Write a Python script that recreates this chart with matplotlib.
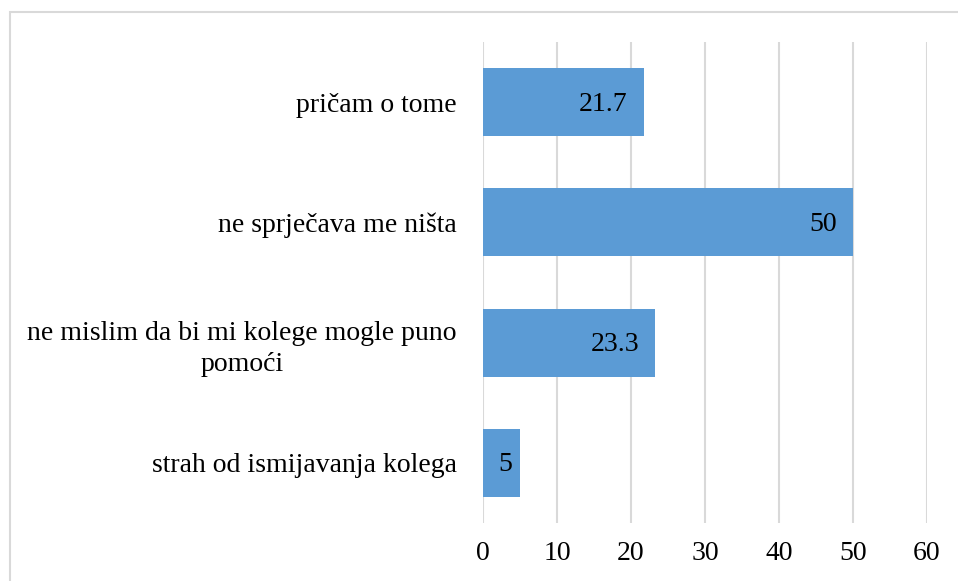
import matplotlib
matplotlib.use("Agg")
import matplotlib.pyplot as plt
from matplotlib.patches import Rectangle

categories = ["pričam o tome", "ne sprječava me ništa",
              "ne mislim da bi mi kolege mogle puno\npomoći",
              "strah od ismijavanja kolega"]
values = [21.7, 50, 23.3, 5]
xticks = [0, 10, 20, 30, 40, 50, 60]

plt.rcParams['font.family'] = ['Liberation Serif', 'DejaVu Serif']

W, H = 958, 581
fig = plt.figure(figsize=(W/100, H/100), dpi=100)
ax = fig.add_axes([483/W, 1-523/H, (927-483)/W, (523-42)/H])

grid_c = '#d9d9d9'
fig.patches.append(Rectangle((10/W, -0.1), 1.2, 1 - 12/H + 0.1, transform=fig.transFigure,
                             fill=False, edgecolor=grid_c, linewidth=1.5))

y = list(range(len(categories)))
ax.barh(y, values, height=0.566, color='#5b9bd5', zorder=2)
ax.set_ylim(len(categories)-0.5, -0.5)
ax.set_xlim(0, 60)
ax.set_xticks(xticks)
ax.set_xticklabels([str(t) for t in xticks])
ax.set_yticks(y)
ax.set_yticklabels(categories)
for lbl in ax.get_yticklabels():
    lbl.set_multialignment('center')
    lbl.set_linespacing(1.35)
ax.tick_params(axis='both', length=0, labelsize=20, colors='black')
ax.tick_params(axis='y', pad=19)
ax.tick_params(axis='x', pad=13)
for s in ax.spines.values():
    s.set_visible(False)
ax.xaxis.grid(True, color=grid_c, linewidth=1.5, zorder=0)
ax.set_axisbelow(True)

for yi, v in zip(y, values):
    off = -8 if v < 10 else -16
    ax.annotate(f"{v:g}", (v, yi), xytext=(off*0.72, -1.5), textcoords='offset points',
                ha='right', va='center', fontsize=20, color='black', zorder=3)

fig.savefig('out.png', dpi=100)
